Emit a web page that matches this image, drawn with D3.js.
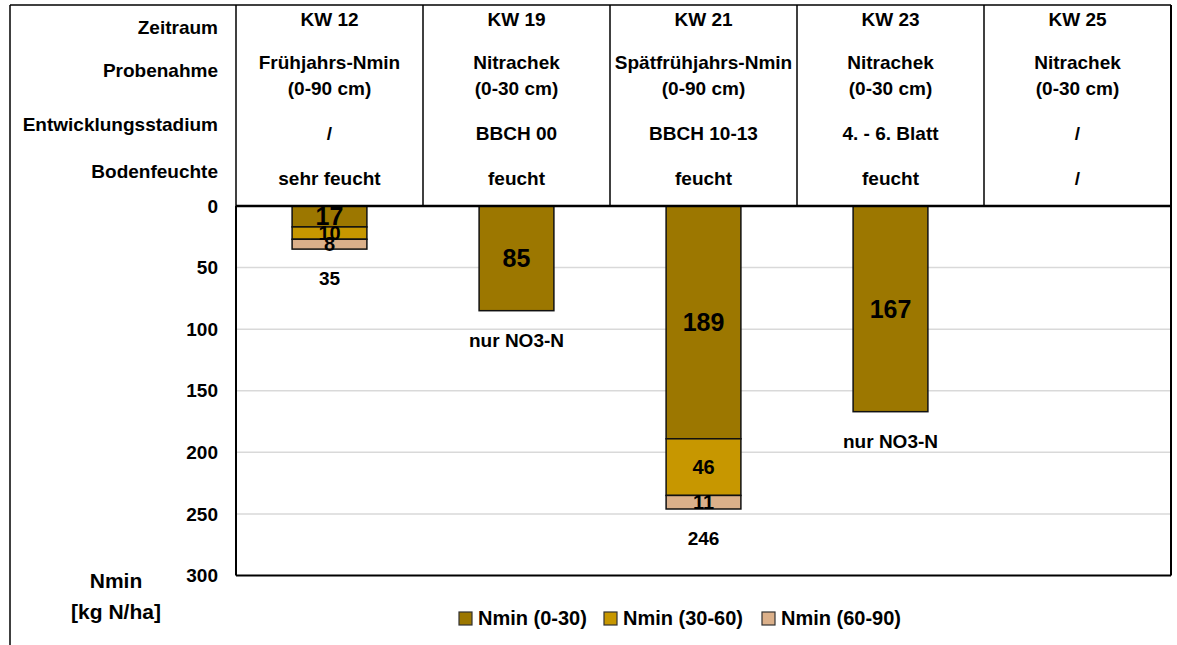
<!DOCTYPE html>
<html>
<head>
<meta charset="utf-8">
<script src="https://cdn.jsdelivr.net/npm/d3@7"></script>
<style>
  body { margin: 0; background: #fff; }
  svg text { font-family: "Liberation Sans", Arial, sans-serif; font-weight: bold; fill: #000; }
</style>
</head>
<body>
<svg id="chart" width="1177" height="645"></svg>
<script>
// ---- data ----
const categories = ["KW 12", "KW 19", "KW 21", "KW 23", "KW 25"];
const probenahme1 = ["Frühjahrs-Nmin", "Nitrachek", "Spätfrühjahrs-Nmin", "Nitrachek", "Nitrachek"];
const probenahme2 = ["(0-90 cm)", "(0-30 cm)", "(0-90 cm)", "(0-30 cm)", "(0-30 cm)"];
const stadium = ["/", "BBCH 00", "BBCH 10-13", "4. - 6. Blatt", "/"];
const feuchte = ["sehr feucht", "feucht", "feucht", "feucht", "/"];
const rowLabels = ["Zeitraum", "Probenahme", "Entwicklungsstadium", "Bodenfeuchte"];

const seriesNames = ["Nmin (0-30)", "Nmin (30-60)", "Nmin (60-90)"];
const nmin0_30 = [17, 85, 189, 167, null];
const nmin30_60 = [10, null, 46, null, null];
const nmin60_90 = [8, null, 11, null, null];
const footLabels = ["35", "nur NO3-N", "246", "nur NO3-N", ""];
const yTicks = [0, 50, 100, 150, 200, 250, 300];
const axisTitle = ["Nmin", "[kg N/ha]"];

const colors = ["#9C7700", "#C79700", "#DBB08A"];

// ---- layout ----
const svg = d3.select("#chart");
const plotLeft = 236, plotRight = 1171, plotTop = 206, plotBottom = 575.5;
const frameTop = 5, frameLeft = 10;

const x = d3.scaleBand().domain(categories).range([plotLeft, plotRight]).paddingInner(0).paddingOuter(0);
const y = d3.scaleLinear().domain([0, 300]).range([plotTop, plotBottom]);
const barW = x.bandwidth() * 0.4;

// gridlines
svg.append("g").selectAll("line").data(yTicks.filter(t => t > 0 && t < 300)).join("line")
  .attr("x1", plotLeft).attr("x2", plotRight)
  .attr("y1", d => y(d)).attr("y2", d => y(d))
  .attr("stroke", "#d9d9d9").attr("stroke-width", 1.5);

// stacked bars
const rows = categories.map((c, i) => ({cat: c, v: [nmin0_30[i], nmin30_60[i], nmin60_90[i]]}));
const segs = [];
rows.forEach(r => {
  let acc = 0;
  r.v.forEach((v, k) => {
    if (v != null) { segs.push({cat: r.cat, k, y0: acc, y1: acc + v, v}); acc += v; }
  });
  r.total = acc;
});

svg.append("g").selectAll("rect").data(segs).join("rect")
  .attr("x", d => x(d.cat) + (x.bandwidth() - barW) / 2)
  .attr("width", barW)
  .attr("y", d => y(d.y0))
  .attr("height", d => y(d.y1) - y(d.y0))
  .attr("fill", d => colors[d.k])
  .attr("stroke", "#111").attr("stroke-width", 1.5);

// segment labels
svg.append("g").selectAll("text").data(segs).join("text")
  .attr("x", d => x(d.cat) + x.bandwidth() / 2)
  .attr("y", d => y((d.y0 + d.y1) / 2))
  .attr("dy", "0.36em")
  .attr("text-anchor", "middle")
  .style("font-size", d => d.k === 0 ? "25px" : "20px")
  .text(d => d.v);

// foot labels
svg.append("g").selectAll("text").data(rows).join("text")
  .attr("x", d => x(d.cat) + x.bandwidth() / 2)
  .attr("y", (d, i) => y(d.total) + 29)
  .attr("dy", "0.36em")
  .attr("text-anchor", "middle")
  .style("font-size", "19px")
  .text((d, i) => footLabels[i]);

// y axis
const yAxis = d3.axisLeft(y).tickValues(yTicks).tickSize(0).tickPadding(18);
const ga = svg.append("g").attr("transform", `translate(${plotLeft},0)`).call(yAxis);
ga.select(".domain").remove();
ga.selectAll("text").style("font-size", "19px").style("font-family", "Liberation Sans, Arial, sans-serif").style("font-weight", "bold").attr("fill", "#000");

// plot border
const border = svg.append("g").attr("stroke", "#000").attr("fill", "none");
border.append("line").attr("x1", plotLeft).attr("x2", plotLeft).attr("y1", plotTop).attr("y2", plotBottom).attr("stroke-width", 2);
border.append("line").attr("x1", plotLeft).attr("x2", plotRight).attr("y1", plotBottom).attr("y2", plotBottom).attr("stroke-width", 2);
border.append("line").attr("x1", plotRight).attr("x2", plotRight).attr("y1", frameTop).attr("y2", plotBottom).attr("stroke-width", 2);
border.append("line").attr("x1", plotLeft).attr("x2", plotRight).attr("y1", plotTop).attr("y2", plotTop).attr("stroke-width", 2.5);

// table column lines
svg.append("g").selectAll("line").data(categories).join("line")
  .attr("x1", d => x(d)).attr("x2", d => x(d))
  .attr("y1", frameTop).attr("y2", plotTop)
  .attr("stroke", "#000").attr("stroke-width", 1.5);

// outer frame
svg.append("line").attr("x1", frameLeft).attr("x2", frameLeft).attr("y1", frameTop).attr("y2", 645).attr("stroke", "#000").attr("stroke-width", 1.5);
svg.append("line").attr("x1", frameLeft).attr("x2", plotRight).attr("y1", frameTop).attr("y2", frameTop).attr("stroke", "#000").attr("stroke-width", 1.5);

// table texts
const cx = c => x(c) + x.bandwidth() / 2;
const tableRows = [
  {arr: categories, yb: 26},
  {arr: probenahme1, yb: 69},
  {arr: probenahme2, yb: 95},
  {arr: stadium, yb: 140},
  {arr: feuchte, yb: 185}
];
tableRows.forEach(r => {
  svg.append("g").selectAll("text").data(r.arr).join("text")
    .attr("x", (d, i) => cx(categories[i]))
    .attr("y", r.yb)
    .attr("text-anchor", "middle")
    .style("font-size", "19px")
    .text(d => d);
});

// row labels
const rowY = [34, 77, 131, 178];
svg.append("g").selectAll("text").data(rowLabels).join("text")
  .attr("x", 218).attr("y", (d, i) => rowY[i])
  .attr("text-anchor", "end")
  .style("font-size", "19px")
  .text(d => d);

// axis title
svg.append("g").selectAll("text").data(axisTitle).join("text")
  .attr("x", 116).attr("y", (d, i) => 588 + i * 31)
  .attr("text-anchor", "middle")
  .style("font-size", "21px")
  .text(d => d);

// legend
const legendX = [459, 604, 762];
const lg = svg.append("g").selectAll("g").data(seriesNames).join("g")
  .attr("transform", (d, i) => `translate(${legendX[i]},612)`);
lg.append("rect").attr("width", 13).attr("height", 13)
  .attr("fill", (d, i) => colors[i]).attr("stroke", "#333").attr("stroke-width", 1.2);
lg.append("text").attr("x", 19).attr("y", 13).style("font-size", "20px").text(d => d);
</script>
</body>
</html>
